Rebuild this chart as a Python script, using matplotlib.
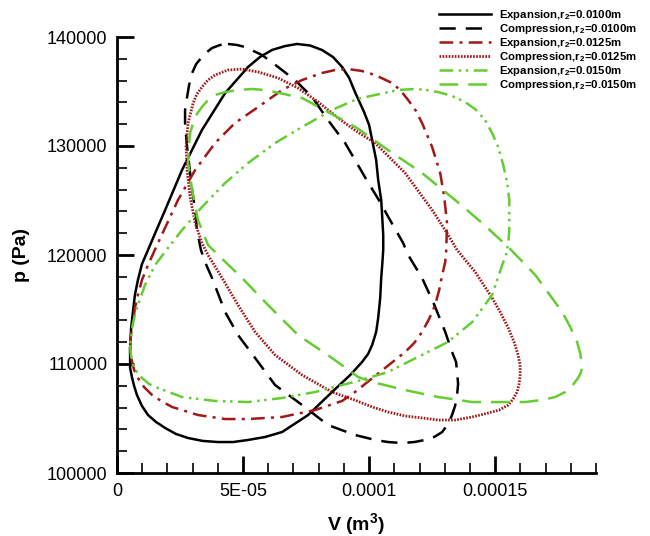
import matplotlib
matplotlib.use("Agg")
import matplotlib.pyplot as plt
import numpy as np

plt.rcParams["font.family"] = ["Liberation Sans", "DejaVu Sans"]
plt.rcParams["mathtext.fontset"] = "custom"
plt.rcParams["mathtext.rm"] = "Liberation Sans"
plt.rcParams["mathtext.bf"] = "Liberation Sans:bold"
plt.rcParams["mathtext.default"] = "bf"

# Volume in units of 1e-5 m^3, pressure in Pa (closed p-V loops)
exp_0100_V = [0.52, 0.56, 0.64, 0.71, 0.83, 0.99, 1.23, 1.55, 1.91, 2.58, 3.37, 4.29,
              5.20, 5.67, 6.15, 6.67, 7.14, 7.66, 8.13, 8.57, 8.93, 9.21, 9.44, 9.80,
              10.00, 10.12, 10.28, 10.36, 10.48, 10.52, 10.56, 10.56, 10.52, 10.48, 10.44,
              10.36, 10.28, 10.12, 9.96, 9.72, 9.25, 8.53, 7.58, 6.55, 5.87, 5.20, 4.60,
              4.01, 3.41, 2.82, 2.34, 1.91, 1.55, 1.23, 0.99, 0.79, 0.68, 0.60, 0.52, 0.52]
exp_0100_p = [111470, 113300, 114950, 116330, 117710, 119170, 120460, 122200, 124130,
              127800, 131470, 134860, 137250, 138160, 138810, 139170, 139360, 139220,
              138810, 138160, 137250, 136240, 134950, 133120, 131930, 130550, 128720,
              126880, 125050, 123490, 121830, 120460, 119080, 117890, 116060, 114220,
              112940, 111740, 110920, 110180, 108990, 107430, 105320, 103760, 103300,
              103030, 102840, 102840, 102940, 103210, 103580, 104130, 104680, 105320,
              106150, 107160, 107980, 108720, 109630, 110550]

cmp_0100_V = [4.40, 4.76, 5.08, 5.75, 6.39, 7.06, 7.74, 8.37, 9.05, 9.44, 9.88, 10.36,
              10.83, 11.35, 11.55, 12.10, 12.54, 13.02, 13.29, 13.45, 13.49, 13.53, 13.49,
              13.41, 13.29, 13.13, 12.90, 12.58, 12.22, 11.79, 11.31, 10.75, 10.24, 9.44,
              8.37, 7.34, 6.27, 5.48, 4.80, 4.29, 3.77, 3.49, 3.33, 3.17, 3.10, 2.98, 2.90,
              2.78, 2.74, 2.70, 2.70, 2.78, 2.86, 2.98, 3.14, 3.37, 3.57, 3.77, 4.09]
cmp_0100_p = [139360, 139270, 139080, 138350, 137250, 136050, 134490, 132380, 130270,
              128720, 126970, 125140, 123210, 121100, 120000, 117890, 115690, 112940,
              111100, 110180, 109270, 108170, 107160, 106150, 105320, 104500, 103760,
              103300, 103030, 102840, 102750, 102840, 103030, 103490, 104400, 106240,
              108070, 110550, 112660, 114770, 117890, 119360, 120460, 122290, 124130,
              125960, 127520, 129910, 131010, 132110, 133300, 134490, 135600, 136700,
              137520, 138160, 138620, 138990, 139270]

exp_0125_V = [0.52, 0.56, 0.64, 0.71, 0.83, 0.99, 1.23, 1.59, 2.42, 3.10, 3.89, 4.68,
              5.60, 6.55, 7.34, 8.13, 8.65, 9.17, 9.72, 10.24, 10.91, 11.23, 11.55, 11.86,
              12.10, 12.50, 12.82, 12.98, 13.09, 13.06, 13.02, 12.90, 12.78, 12.62, 12.38,
              12.10, 11.79, 11.43, 10.63, 9.84, 9.44, 8.93, 7.86, 6.55, 5.20, 4.29, 3.21,
              2.70, 2.18, 1.75, 1.39, 1.07, 0.83, 0.68, 0.60, 0.52]
exp_0125_p = [111740, 112840, 113850, 115140, 116330, 117710, 119080, 120920, 125050,
              127800, 130270, 132110, 133580, 135140, 136050, 136700, 136970, 137060,
              136880, 136510, 135780, 135140, 134220, 133210, 132110, 129910, 127520,
              125320, 122940, 120460, 119360, 118170, 116790, 115410, 114130, 112940,
              111930, 111100, 109630, 108170, 107430, 106610, 105780, 105140, 104950,
              104950, 105320, 105690, 106060, 106610, 107160, 107890, 108720, 109450,
              110180, 111010]

cmp_0125_V = [2.82, 3.02, 3.17, 3.37, 3.61, 3.89, 4.40, 4.96, 5.60, 6.39, 7.18, 7.98,
              8.77, 9.48, 10.24, 11.43, 12.50, 13.09, 13.49, 14.21, 14.88, 15.20, 15.52,
              15.75, 15.91, 15.99, 15.99, 15.95, 15.87, 15.71, 15.52, 15.16, 14.72, 14.09,
              13.41, 12.74, 12.10, 11.43, 10.75, 10.12, 9.52, 8.53, 7.34, 6.27, 5.48, 4.80,
              4.17, 3.61, 3.37, 3.10, 2.90, 2.78, 2.74, 2.78]
cmp_0125_p = [132110, 133940, 134770, 135410, 136050, 136510, 136970, 137060, 136790,
              136240, 135320, 134040, 132570, 131380, 130270, 127520, 124130, 122020,
              120460, 118440, 116060, 114770, 113300, 112020, 110830, 109910, 108990,
              108170, 107430, 106790, 106240, 105780, 105500, 105140, 104860, 104860,
              105050, 105230, 105600, 106060, 106610, 107430, 108990, 110830, 112940,
              115410, 117890, 120000, 121100, 122940, 125320, 127800, 129910, 131010]

exp_0150_V = [0.52, 0.56, 0.64, 0.79, 0.99, 1.27, 1.63, 2.58, 3.89, 5.20, 6.55, 7.86,
              8.93, 9.56, 10.75, 12.10, 13.13, 14.09, 14.88, 15.28, 15.44, 15.52, 15.56,
              15.56, 15.56, 15.48, 15.32, 15.12, 14.88, 14.60, 14.25, 13.81, 13.29, 12.74,
              12.26, 11.83, 11.15, 10.24, 9.52, 8.53, 7.34, 6.27, 5.20, 4.29, 3.37, 2.58,
              2.02, 1.51, 1.11, 0.79, 0.68, 0.60, 0.56]
exp_0150_p = [111740, 110730, 109910, 109270, 108720, 108170, 107800, 106970, 106610,
              106510, 106880, 107430, 108070, 108440, 109270, 110830, 112020, 113850,
              116330, 119080, 120090, 121100, 122290, 123490, 125050, 126610, 128260,
              129910, 131190, 132380, 133300, 134040, 134590, 134950, 135140, 135230,
              135140, 134680, 134310, 133300, 131740, 130270, 128440, 126610, 124400,
              122290, 120640, 119080, 117250, 115140, 114220, 113300, 112480]

cmp_0150_V = [2.86, 2.90, 3.02, 3.17, 3.37, 3.61, 3.89, 4.29, 4.80, 5.36, 5.83, 6.27,
              7.34, 8.37, 9.17, 9.52, 10.75, 12.10, 13.41, 14.48, 15.52, 16.59, 17.66,
              17.98, 18.25, 18.37, 18.45, 18.41, 18.29, 18.05, 17.78, 17.38, 16.86, 16.19,
              15.52, 14.09, 12.74, 11.43, 10.12, 9.56, 8.53, 7.18, 5.99, 4.96, 4.01, 3.61,
              3.21, 2.98, 2.82]
cmp_0150_p = [130270, 131190, 132110, 132940, 133580, 134220, 134680, 134950, 135140,
              135230, 135140, 134950, 134400, 133120, 132110, 131650, 129630, 127520,
              125050, 122940, 120730, 118170, 114770, 113390, 112020, 111010, 109910,
              109270, 108720, 107980, 107430, 106970, 106700, 106510, 106510, 106510,
              106970, 107610, 108350, 108810, 110550, 112660, 115410, 117890, 120000,
              120920, 123210, 125960, 128440]

labels = [r"Expansion,r$_2$=0.0100m", r"Compression,r$_2$=0.0100m",
          r"Expansion,r$_2$=0.0125m", r"Compression,r$_2$=0.0125m",
          r"Expansion,r$_2$=0.0150m", r"Compression,r$_2$=0.0150m"]

x_ticks = [0, 5e-5, 1e-4, 1.5e-4]
x_tick_labels = ["0", "5E-05", "0.0001", "0.00015"]
y_ticks = [100000, 110000, 120000, 130000, 140000]

black = "#000000"
red = "#A01818"
green = "#66CC33"

series = [
    (exp_0100_V, exp_0100_p, dict(color=black, lw=1.8, ls="-")),
    (cmp_0100_V, cmp_0100_p, dict(color=black, lw=1.8, ls=(0, (6.5, 4.0)))),
    (exp_0125_V, exp_0125_p, dict(color=red, lw=1.8, ls=(0, (5.5, 2.5, 1.2, 2.5)))),
    (cmp_0125_V, cmp_0125_p, dict(color=red, lw=2.0, ls=(0, (0.6, 0.5)))),
    (exp_0150_V, exp_0150_p, dict(color=green, lw=1.8, ls=(0, (5.5, 2.2, 1.0, 1.8, 1.0, 2.2)))),
    (cmp_0150_V, cmp_0150_p, dict(color=green, lw=1.8, ls=(0, (7.5, 4.0)))),
]

fig = plt.figure(figsize=(6.5, 5.36), dpi=100)
ax = fig.add_axes([117 / 650, 1 - 473 / 536, (596 - 117) / 650, (473 - 37) / 536])

handles = []
for V, p, style in series:
    V = np.asarray(V) * 1e-5
    p = np.asarray(p)
    Vc = np.append(V, V[0])
    pc = np.append(p, p[0])
    h, = ax.plot(Vc, pc, solid_joinstyle="round", dash_capstyle="butt", **style)
    handles.append(h)

ax.set_xlim(0, 1.9e-4)
ax.set_ylim(100000, 140000)
ax.set_xticks(x_ticks)
ax.set_xticklabels(x_tick_labels)
ax.set_yticks(y_ticks)
ax.set_yticklabels([str(t) for t in y_ticks])
ax.set_xticks(np.arange(0, 1.9e-4 + 1e-9, 1e-5), minor=True)
ax.set_yticks(np.arange(100000, 140001, 2000), minor=True)

for side in ("top", "right"):
    ax.spines[side].set_visible(False)
for side in ("left", "bottom"):
    ax.spines[side].set_linewidth(2.0)

ax.tick_params(which="major", direction="in", length=12, width=2.0, labelsize=13, pad=7)
ax.tick_params(which="minor", direction="in", length=7, width=1.2)

ax.set_xlabel(r"V (m$^3$)", fontsize=14, fontweight="bold", labelpad=8)
ax.set_ylabel("p (Pa)", fontsize=14, fontweight="bold", labelpad=12)

fig.legend(handles, labels, loc="upper right", bbox_to_anchor=(637 / 650, 1 - 8 / 536),
           frameon=False, prop=dict(size=8.2, weight="bold"), handlelength=4.6,
           handletextpad=0.7, labelspacing=0.0, borderpad=0.0, borderaxespad=0.0)

fig.savefig("out.png", dpi=100)
